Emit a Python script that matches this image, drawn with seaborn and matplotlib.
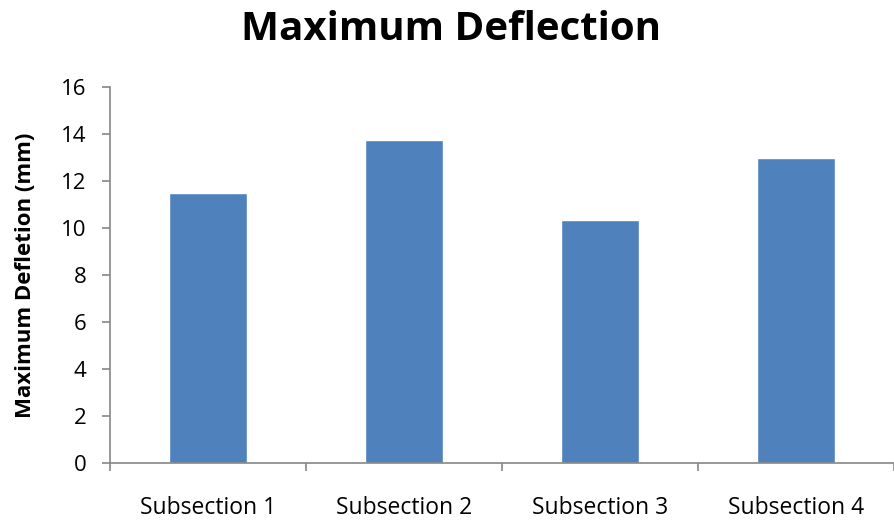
import matplotlib
matplotlib.use("Agg")
import matplotlib.pyplot as plt
import seaborn as sns
import pandas as pd

categories = ["Subsection 1", "Subsection 2", "Subsection 3", "Subsection 4"]
deflection = [11.5, 13.75, 10.35, 13.0]
y_ticks = [0, 2, 4, 6, 8, 10, 12, 14, 16]

sns.set_style("white")
plt.rcParams["font.family"] = ["Open Sans", "DejaVu Sans"]
plt.rcParams["text.color"] = "black"
plt.rcParams["axes.labelcolor"] = "black"
plt.rcParams["xtick.color"] = "black"
plt.rcParams["ytick.color"] = "black"

df = pd.DataFrame({"section": categories, "value": deflection})

fig = plt.figure(figsize=(8.94, 5.25), dpi=100)
ax = fig.add_axes([0.123, 0.118, 0.877, 0.716])

sns.barplot(data=df, x="section", y="value", color="#4F81BD", saturation=1,
            width=0.40, ax=ax)

spine_col = "#868686"
ax.set_ylim(0, 16)
ax.set_xlim(-0.5, 3.46)
ax.set_yticks(y_ticks)
ax.set_yticklabels([str(t) for t in y_ticks], fontsize=16)
ax.set_xticks(range(len(categories)))
ax.set_xticklabels(categories, fontsize=16.5)
ax.set_xticks([i - 0.5 for i in range(len(categories) + 1)], minor=True)

ax.tick_params(axis="x", which="major", bottom=True, length=0, pad=24,
               labelcolor="black")
ax.tick_params(axis="x", which="minor", bottom=True, length=6, width=1.2,
               color=spine_col, direction="out")
ax.tick_params(axis="y", left=True, length=6, width=1.2, color=spine_col,
               direction="out", pad=11, labelcolor="black")

for side in ["top", "right"]:
    ax.spines[side].set_visible(False)
for side in ["left", "bottom"]:
    ax.spines[side].set_color(spine_col)
    ax.spines[side].set_linewidth(1.2)

ax.set_xlabel("")
ax.set_ylabel("Maximum Defletion (mm)", fontsize=16, fontweight="bold")
ax.yaxis.set_label_coords(-0.094, 0.5)
fig.text(0.505, 0.943, "Maximum Deflection", ha="center", va="center",
         fontsize=29, fontweight="bold", color="black")

fig.savefig("out.png", dpi=100)
